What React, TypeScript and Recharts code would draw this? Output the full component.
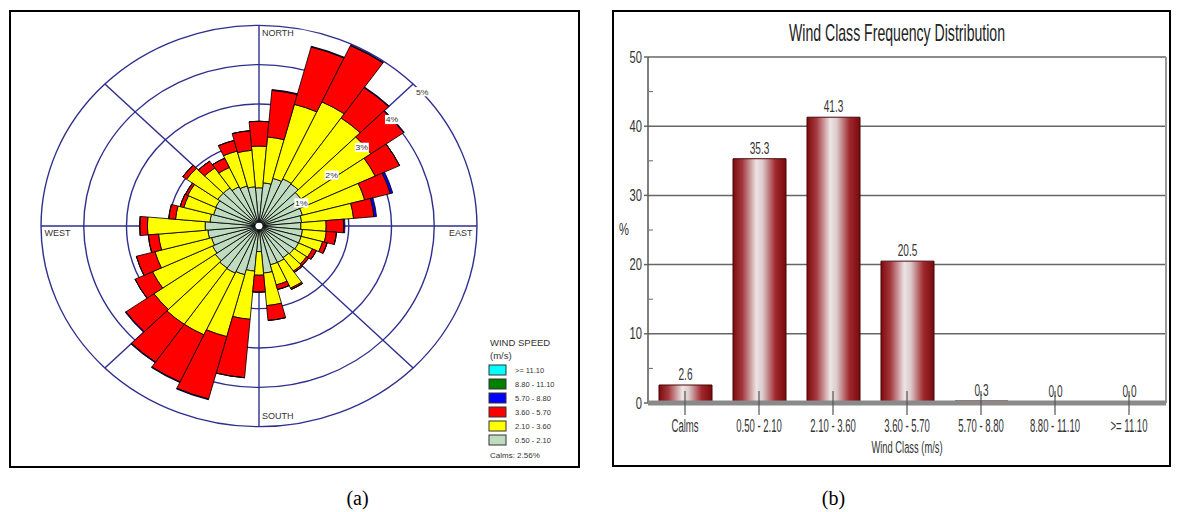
import React from 'react'
import {
  RadialBarChart,
  RadialBar,
  PolarGrid,
  PolarAngleAxis,
  PolarRadiusAxis,
  BarChart,
  Bar,
  XAxis,
  YAxis,
  CartesianGrid,
  LabelList,
  Label
} from 'recharts'

// wind rose: direction sectors (degrees, clockwise from north)
const directions = [
  '0', '10', '20', '30', '40', '50', '60', '70', '80', '90',
  '100', '110', '120', '130', '140', '150', '160', '170', '180',
  '190', '200', '210', '220', '230', '240', '250', '260', '270',
  '280', '290', '300', '310', '320', '330', '340', '350'
]

// % frequency per speed class and direction
const speed050 = [
  0.87, 1.0, 1.15, 1.22, 1.2, 1.1, 1.0, 0.95, 0.9, 0.88,
  0.92, 0.92, 0.92, 0.9, 0.88, 0.92, 0.92, 1.1, 0.55,
  1.05, 1.18, 1.22, 1.2, 1.15, 1.1, 1.05, 1.1, 1.16,
  1.05, 1.0, 1.02, 1.08, 1.08, 1.0, 0.95, 0.9
]
const speed210 = [
  1.06, 1.17, 1.95, 2.16, 2.05, 2.0, 1.9, 1.51, 1.22, 0.59,
  0.56, 0.52, 0.36, 0.36, 0.42, 0.72, 0.53, 0.83, 0.6,
  1.23, 1.63, 1.73, 1.75, 1.75, 1.55, 1.37, 1.16, 1.35,
  0.81, 0.72, 0.72, 0.89, 0.62, 0.54, 0.92, 0.93
]
const speed360 = [
  0.63, 1.19, 1.51, 1.58, 0.94, 0.93, 0.63, 0.62, 0.48, 0.41,
  0.24, 0.11, 0.1, 0.06, 0.04, 0.04, 0.12, 0.38, 0.43,
  1.49, 1.64, 1.32, 1.17, 0.8, 0.45, 0.45, 0.24, 0.18,
  0.16, 0.09, 0.06, 0.11, 0.21, 0.26, 0.28, 0.5
]
const speed570 = [
  0, 0.02, 0.02, 0.02, 0.02, 0.02, 0, 0.06, 0.06, 0.03,
  0, 0, 0, 0, 0, 0, 0, 0, 0,
  0, 0.02, 0.02, 0.02, 0.02, 0, 0, 0, 0,
  0, 0, 0, 0, 0, 0, 0, 0
]

const speedClasses = ['0.50 - 2.10', '2.10 - 3.60', '3.60 - 5.70', '5.70 - 8.80', '8.80 - 11.10', '>= 11.10']
const speedColors = ['#c0dcc0', '#ffff00', '#ff0000', '#0000ff', '#008000', '#00ffff']
const roseKeys = ['s050', 's210', 's360', 's570']
const pctTicks = [0, 1, 2, 3, 4, 5]
const compassAngles = [0, 45, 90, 135, 180, 225, 270, 315]

// bar chart: wind class frequency distribution
const windClasses = ['Calms', '0.50 - 2.10', '2.10 - 3.60', '3.60 - 5.70', '5.70 - 8.80', '8.80 - 11.10', '>= 11.10']
const classFreq = [2.6, 35.3, 41.3, 20.5, 0.3, 0.0, 0.0]
const freqTicks = [0, 5, 10, 15, 20, 25, 30, 35, 40, 45, 50]

const roseRows = directions.map((dir, i) => ({
  dir,
  s050: speed050[i],
  s210: speed210[i],
  s360: speed360[i],
  s570: speed570[i]
}))

const classRows = windClasses.map((cls, i) => ({ cls, freq: classFreq[i] }))

const SANS = "'Liberation Sans', Arial, sans-serif"

const PctTick = (props: any) => {
  const { x, y, payload } = props
  if (!payload || !payload.value) return <g />
  return (
    <g>
      <rect x={x + 8.4 - 6.5} y={y + 7.6 - 4.6} width={13} height={9.2} fill="#fff" />
      <text x={x + 8.4} y={y + 7.6 + 3} textAnchor="middle" fontSize={8} fontFamily={SANS} fill="#333">
        {payload.value}%
      </text>
    </g>
  )
}

const FreqTick = (props: any) => {
  const { x, y, payload } = props
  const v = payload.value
  if (v % 10 !== 0) {
    return <line x1={x + 1} x2={x + 5} y1={y} y2={y} stroke="#666" strokeWidth={1} />
  }
  return (
    <g>
      <line x1={x - 4} x2={x} y1={y} y2={y} stroke="#666" strokeWidth={1.5} />
      <text
        transform={`translate(${x - 6},${y + 5.5}) scale(0.7,1)`}
        textAnchor="end"
        fontSize={16}
        fontFamily={SANS}
        fill="#333"
      >
        {v}
      </text>
    </g>
  )
}

const ClassTick = (props: any) => {
  const { x, y, payload } = props
  return (
    <g>
      <line x1={x} x2={x} y1={y - 12} y2={y + 12} stroke="#555" strokeWidth={1.2} />
      <text
        transform={`translate(${x},${y + 29}) scale(0.53,1)`}
        textAnchor="middle"
        fontSize={18}
        fontFamily={SANS}
        fill="#333"
      >
        {payload.value}
      </text>
    </g>
  )
}

const FreqLabel = (props: any) => {
  const { x, y, width, value } = props
  return (
    <text
      transform={`translate(${x + width / 2},${y - 5}) scale(0.63,1)`}
      textAnchor="middle"
      fontSize={16}
      fontFamily={SANS}
      fill="#333"
    >
      {Number(value).toFixed(1)}
    </text>
  )
}

const XTitle = (props: any) => {
  const vb = props.viewBox
  return (
    <text
      transform={`translate(${vb.x + vb.width / 2},${vb.y + 50}) scale(0.55,1)`}
      textAnchor="middle"
      fontSize={17}
      fontFamily={SANS}
      fill="#333"
    >
      Wind Class (m/s)
    </text>
  )
}

const YTitle = (props: any) => {
  const vb = props.viewBox
  return (
    <text
      transform={`translate(${vb.x + 12},${vb.y + vb.height / 2 + 5}) scale(0.7,1)`}
      textAnchor="middle"
      fontSize={16}
      fontFamily={SANS}
      fill="#333"
    >
      %
    </text>
  )
}

const WindRose = () => (
  <RadialBarChart
    width={440}
    height={440}
    cx={220}
    cy={220}
    data={roseRows}
    layout="centric"
    startAngle={85}
    endAngle={-275}
    innerRadius={4}
    outerRadius={200.7}
    barCategoryGap={0}
    barGap={0}
    margin={{ top: 0, right: 0, bottom: 0, left: 0 }}
  >
    <PolarGrid gridType="circle" polarAngles={compassAngles} stroke="#2f2f8f" strokeWidth={1.3} />
    <PolarAngleAxis type="category" dataKey="dir" tick={false} tickLine={false} axisLine={false} />
    {roseKeys.map((k, i) => (
      <RadialBar
        key={k}
        dataKey={k}
        stackId="rose"
        fill={speedColors[i]}
        stroke="#000"
        strokeWidth={0.8}
        isAnimationActive={false}
      />
    ))}
    <PolarRadiusAxis
      type="number"
      angle={45}
      domain={[0, 5]}
      ticks={pctTicks}
      axisLine={false}
      tickLine={false}
      tick={(p: any) => <PctTick {...p} />}
    />
  </RadialBarChart>
)

const ClassChart = () => (
  <BarChart
    width={558}
    height={455}
    data={classRows}
    margin={{ top: 46, right: 0, bottom: 0, left: 0 }}
    barSize={53}
  >
    <defs>
      <linearGradient id="barShade" x1="0" y1="0" x2="1" y2="0">
        <stop offset="0%" stopColor="#7d0a0e" />
        <stop offset="18%" stopColor="#a43a3e" />
        <stop offset="44%" stopColor="#ece4e5" />
        <stop offset="56%" stopColor="#dccbcc" />
        <stop offset="80%" stopColor="#a0292d" />
        <stop offset="100%" stopColor="#780a0d" />
      </linearGradient>
    </defs>
    <CartesianGrid vertical={false} horizontalValues={[10, 20, 30, 40, 50]} stroke="#666" strokeWidth={1.5} />
    <YAxis
      domain={[0, 50]}
      ticks={freqTicks}
      interval={0}
      width={36}
      tickSize={0}
      tickMargin={0}
      tickLine={false}
      axisLine={{ stroke: '#555', strokeWidth: 1.5 }}
      tick={(p: any) => <FreqTick {...p} />}
    >
      <Label content={(p: any) => <YTitle {...p} />} />
    </YAxis>
    <YAxis
      yAxisId="edge"
      orientation="right"
      width={4}
      domain={[0, 50]}
      tick={false}
      tickLine={false}
      axisLine={{ stroke: '#999', strokeWidth: 2 }}
    />
    <Bar
      dataKey="freq"
      fill="url(#barShade)"
      stroke="#4a0505"
      strokeWidth={1}
      minPointSize={1}
      isAnimationActive={false}
    >
      <LabelList dataKey="freq" content={(p: any) => <FreqLabel {...p} />} />
    </Bar>
    <XAxis
      dataKey="cls"
      height={63}
      interval={0}
      tickSize={0}
      tickMargin={0}
      tickLine={false}
      axisLine={{ stroke: '#8a8a8a', strokeWidth: 5 }}
      tick={(p: any) => <ClassTick {...p} />}
    >
      <Label content={(p: any) => <XTitle {...p} />} />
    </XAxis>
  </BarChart>
)

export default function App() {
  const legendRows = speedClasses.map((c, i) => ({ c, color: speedColors[i] })).reverse()
  return (
    <div
      style={{
        position: 'absolute',
        left: 0,
        top: 0,
        width: 1178,
        height: 512,
        background: '#fff',
        overflow: 'hidden',
        fontFamily: SANS
      }}
    >
      <div style={{ position: 'absolute', left: 9, top: 10, width: 567, height: 454, border: '2px solid #000' }} />
      <div style={{ position: 'absolute', left: 612, top: 10, width: 555, height: 453, border: '2px solid #000' }} />

      <div
        style={{
          position: 'absolute',
          left: 39,
          top: 5.6,
          width: 440,
          height: 440,
          transform: 'scaleX(1.086)',
          transformOrigin: '220px 220px'
        }}
      >
        <WindRose />
      </div>

      <div style={{ position: 'absolute', left: 612, top: 11 }}>
        <ClassChart />
      </div>

      <svg
        width={1178}
        height={512}
        style={{ position: 'absolute', left: 0, top: 0, pointerEvents: 'none' }}
      >
        <g fontFamily={SANS} fill="#333" fontSize={9}>
          <text x={262} y={36}>NORTH</text>
          <text x={262} y={418.5}>SOUTH</text>
          <text x={44.5} y={236.4}>WEST</text>
          <text x={472.5} y={236.4} textAnchor="end">EAST</text>
        </g>

        <g fontFamily={SANS} fill="#333">
          <text x={490} y={345.5} fontSize={9.5}>WIND SPEED</text>
          <text x={490} y={359} fontSize={9.5}>(m/s)</text>
          {legendRows.map((r, i) => (
            <g key={r.c}>
              <rect x={489} y={365 + i * 14} width={17} height={10} fill={r.color} stroke="#333" strokeWidth={1} />
              <text x={515} y={373 + i * 14} fontSize={7.5}>{r.c}</text>
            </g>
          ))}
          <text x={490} y={458} fontSize={8}>Calms: 2.56%</text>
        </g>

        <text
          x={897}
          y={41}
          fontSize={24}
          fontFamily={SANS}
          fill="#222"
          textAnchor="middle"
          textLength={216}
          lengthAdjust="spacingAndGlyphs"
        >
          Wind Class Frequency Distribution
        </text>

        <g fontFamily="'Liberation Serif', 'Times New Roman', serif" fontSize={20} fill="#000" textAnchor="middle">
          <text x={357.5} y={505}>(a)</text>
          <text x={833.5} y={505}>(b)</text>
        </g>
      </svg>
    </div>
  )
}
